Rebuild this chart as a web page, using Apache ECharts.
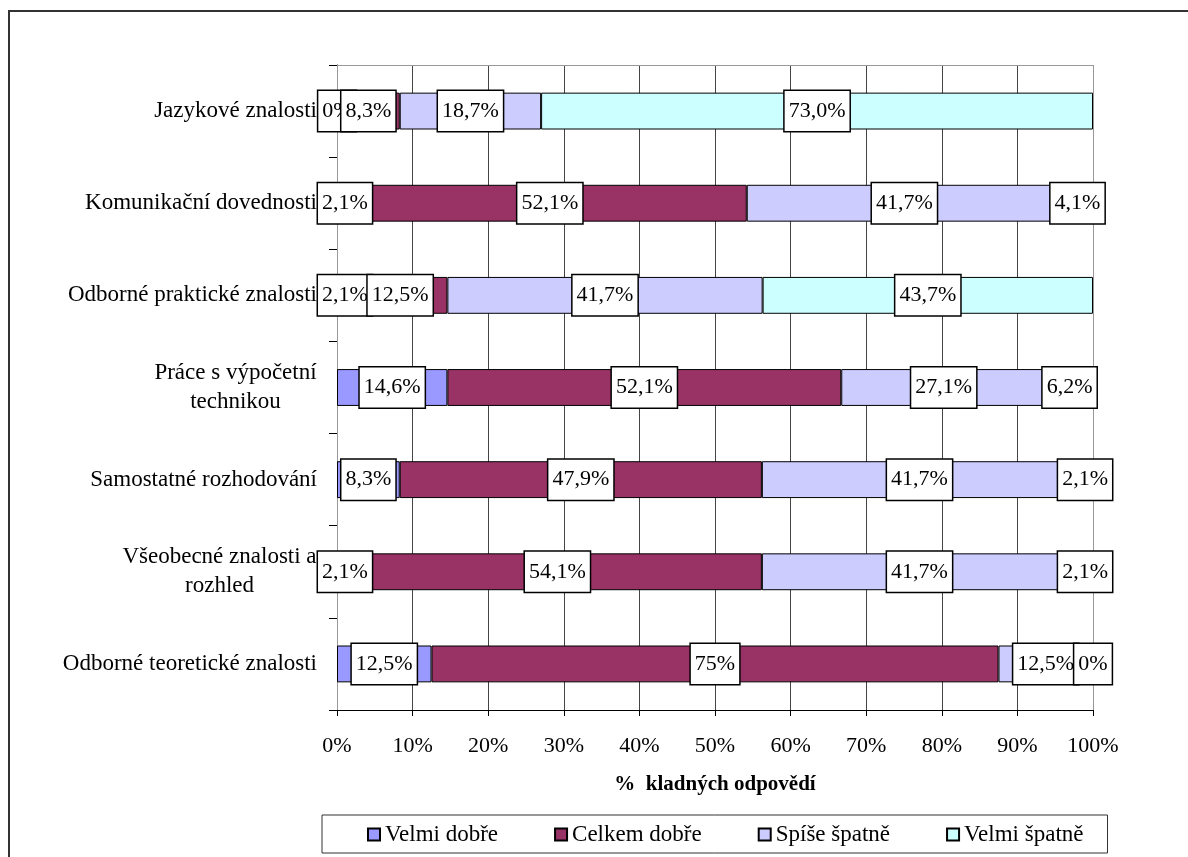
<!DOCTYPE html>
<html>
<head>
<meta charset="utf-8">
<script src="https://cdn.jsdelivr.net/npm/echarts@6/dist/echarts.min.js"></script>
<style>
  html, body { margin: 0; padding: 0; background: #fff; }
  #chart { width: 1188px; height: 857px; }
</style>
</head>
<body>
<div id="chart"></div>
<script>
// Rated skills, top to bottom
const categories = [
  'Jazykové znalosti',
  'Komunikační dovednosti',
  'Odborné praktické znalosti',
  'Práce s výpočetní\ntechnikou',
  'Samostatné rozhodování',
  'Všeobecné znalosti a\nrozhled',
  'Odborné teoretické znalosti'
];

// Shares in percent, kept as written so labels show the same digits
const velmiDobre  = ['0',    '2.1',  '2.1',  '14.6', '8.3',  '2.1',  '12.5'];
const celkemDobre = ['8.3',  '52.1', '12.5', '52.1', '47.9', '54.1', '75'];
const spiseSpatne = ['18.7', '41.7', '41.7', '27.1', '41.7', '41.7', '12.5'];
const velmiSpatne = ['73.0', '4.1',  '43.7', '6.2',  '2.1',  '2.1',  '0'];

const seriesNames = ['Velmi dobře', 'Celkem dobře', 'Spíše špatně', 'Velmi špatně'];
const seriesColors = ['#9999FF', '#993366', '#CCCCFF', '#CCFFFF'];
const seriesValues = [velmiDobre, celkemDobre, spiseSpatne, velmiSpatne];

const axisTitle = '%  kladných odpovědí';

const FONT = '"Liberation Serif", "Times New Roman", serif';
const CAT_SIZE = 23;

// widest line of the two-line category labels, so their lines can be centred
function measure(text, size) {
  const ctx = document.createElement('canvas').getContext('2d');
  ctx.font = size + 'px ' + FONT;
  return ctx.measureText(text).width;
}
function labelBlockWidth(label) {
  return Math.ceil(Math.max.apply(null, label.split('\n').map(l => measure(l, CAT_SIZE))));
}

const series = seriesValues.map((vals, si) => ({
  name: seriesNames[si],
  type: 'bar',
  stack: 'total',
  barWidth: '40%',
  itemStyle: { color: seriesColors[si], borderColor: '#000', borderWidth: 1 },
  label: {
    show: true,
    position: 'inside',
    color: '#000',
    fontFamily: FONT,
    fontSize: 22,
    lineHeight: 22,
    backgroundColor: '#fff',
    borderColor: '#000',
    borderWidth: 1.5,
    padding: [9, 4],
    formatter: p => vals[p.dataIndex].replace('.', ',') + '%'
  },
  emphasis: { disabled: true },
  data: vals.map(v => parseFloat(v))
}));

const splitColors = [];
for (let i = 0; i < 10; i++) splitColors.push('#444');
splitColors.push('#999');

const chart = echarts.init(document.getElementById('chart'), null, { renderer: 'canvas' });
chart.setOption({
  animation: false,
  backgroundColor: '#fff',
  textStyle: { fontFamily: FONT },
  grid: { left: 337, right: 95, top: 65, bottom: 147, containLabel: false },
  xAxis: [{
    type: 'value',
    min: 0,
    max: 100,
    interval: 10,
    position: 'bottom',
    axisLine: { show: true, lineStyle: { color: '#000', width: 1 } },
    axisTick: { show: true, length: 6, lineStyle: { color: '#000' } },
    axisLabel: { color: '#000', fontFamily: FONT, fontSize: 22, margin: 25, formatter: v => v + '%' },
    splitLine: { show: true, lineStyle: { color: splitColors, width: 1 } },
    name: axisTitle,
    nameLocation: 'middle',
    nameGap: 64,
    nameTextStyle: { color: '#000', fontFamily: FONT, fontSize: 21, fontWeight: 'bold' }
  }, {
    type: 'value',
    min: 0,
    max: 100,
    position: 'top',
    axisLine: { show: true, lineStyle: { color: '#999', width: 1 } },
    axisTick: { show: false },
    axisLabel: { show: false },
    splitLine: { show: false }
  }],
  yAxis: [{
    type: 'category',
    inverse: true,
    data: categories,
    axisLine: { show: true, lineStyle: { color: '#000', width: 1 } },
    axisTick: { show: true, length: 8, lineStyle: { color: '#000' } },
    axisLabel: {
      color: '#000',
      fontFamily: FONT,
      fontSize: CAT_SIZE,
      lineHeight: 29,
      margin: 20,
      formatter: function (value) {
        if (value.indexOf('\n') < 0) return value;
        return value.split('\n').map(l => '{c' + categories.indexOf(value) + '|' + l + '}').join('\n');
      },
      rich: categories.reduce((acc, c, i) => {
        acc['c' + i] = {
          width: labelBlockWidth(c),
          align: 'center',
          fontFamily: FONT,
          fontSize: CAT_SIZE,
          lineHeight: 29,
          color: '#000'
        };
        return acc;
      }, {})
    },
    splitLine: { show: false }
  }, {
    type: 'category',
    inverse: true,
    position: 'right',
    data: categories,
    axisLine: { show: true, lineStyle: { color: '#999', width: 1 } },
    axisTick: { show: false },
    axisLabel: { show: false },
    splitLine: { show: false }
  }],
  legend: {
    left: 322,
    top: 815,
    orient: 'horizontal',
    icon: 'rect',
    itemWidth: 12,
    itemHeight: 12,
    itemGap: 56,
    padding: [8, 24, 7, 45],
    borderColor: '#333',
    borderWidth: 1,
    backgroundColor: '#fff',
    textStyle: { color: '#000', fontFamily: FONT, fontSize: 23 },
    data: seriesNames
  },
  graphic: [
    { type: 'line', shape: { x1: 8, y1: 11, x2: 1188, y2: 11 }, style: { stroke: '#333', lineWidth: 2 } },
    { type: 'line', shape: { x1: 9, y1: 11, x2: 9, y2: 857 }, style: { stroke: '#333', lineWidth: 2 } }
  ],
  series: series
});
</script>
</body>
</html>
